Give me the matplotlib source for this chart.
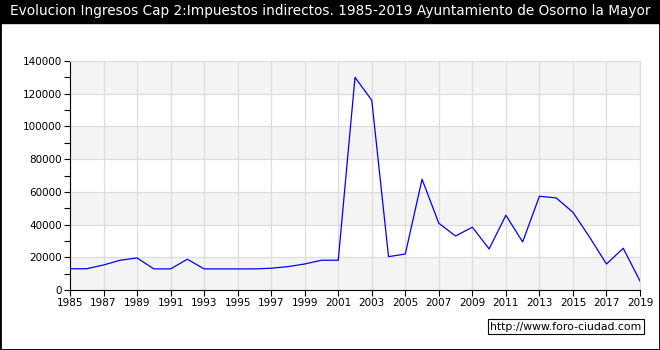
import matplotlib
matplotlib.use("Agg")
import matplotlib.pyplot as plt
from matplotlib.patches import Rectangle
from matplotlib.ticker import MultipleLocator, FuncFormatter

years = list(range(1985, 2020))
values = [13000, 13000, 15300, 18200, 19600, 12900, 12900, 18800, 12900, 12900,
          12900, 12900, 13300, 14300, 15900, 18200, 18200, 130000, 116000, 20400,
          22000, 67700, 40800, 33000, 38400, 25100, 45700, 29400, 57300, 56300,
          47500, 32200, 15900, 25500, 5500]
title = "Evolucion Ingresos Cap 2:Impuestos indirectos. 1985-2019 Ayuntamiento de Osorno la Mayor"
watermark = "http://www.foro-ciudad.com"

W, H = 660, 350
fig = plt.figure(figsize=(W / 100, H / 100), dpi=100)
fig.patch.set_facecolor("white")

# outer frame and title bar
fig.patches.append(Rectangle((0, 0), 1, 1, transform=fig.transFigure, fill=False,
                             edgecolor="black", linewidth=2, zorder=0))
fig.patches.append(Rectangle((0, 1 - 23 / H), 1, 23 / H, transform=fig.transFigure,
                             facecolor="black", edgecolor="black", zorder=1))
fig.text(0.5, 1 - 11.5 / H, title, color="white", ha="center", va="center",
         fontsize=9.8, family="DejaVu Sans")

# axes area: x 70..640, y 61..290
ax = fig.add_axes([70 / W, 1 - 290 / H, 570 / W, 229 / H])
for i, lo in enumerate(range(0, 140000, 20000)):
    if i % 2 == 0:
        ax.axhspan(lo, lo + 20000, facecolor="#f4f4f4", edgecolor="none", zorder=0)
ax.plot(years, values, color="blue", linewidth=0.9, zorder=3)
ax.set_xlim(1985, 2019)
ax.set_ylim(0, 140000)

ax.set_xticks(list(range(1985, 2020, 2)))
ax.yaxis.set_major_locator(MultipleLocator(20000))
ax.yaxis.set_minor_locator(MultipleLocator(10000))
ax.yaxis.set_major_formatter(FuncFormatter(lambda v, p: f"{int(round(v))}"))
ax.grid(True, which="major", color="#dddddd", linewidth=0.9, zorder=1)
ax.set_axisbelow(True)
for s in ["top", "right"]:
    ax.spines[s].set_color("#dddddd")
for s in ["left", "bottom"]:
    ax.spines[s].set_color("black")
ax.tick_params(axis="both", which="both", direction="out", length=4, width=0.8,
               labelsize=7.5, color="black", pad=2)
ax.tick_params(axis="y", which="minor", length=4)

# watermark box
fig.text(566 / W, 1 - 326.5 / H, watermark, ha="center", va="center", fontsize=7.8,
         family="DejaVu Sans",
         bbox=dict(boxstyle="square,pad=0.25", facecolor="white", edgecolor="black",
                   linewidth=0.8))

fig.savefig("out.png", dpi=100)
